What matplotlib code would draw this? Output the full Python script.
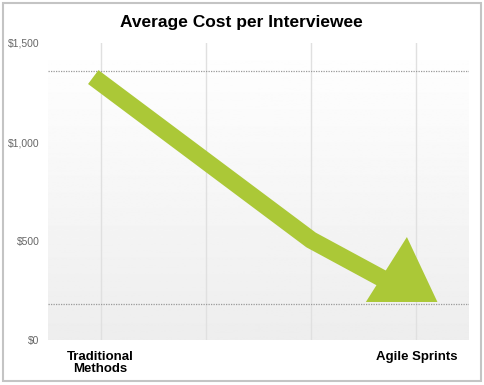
import numpy as np
import matplotlib
matplotlib.use("Agg")
import matplotlib.pyplot as plt
from matplotlib.patches import Rectangle, Polygon

# chart data
categories = ["Traditional\nMethods", "", "", "Agile Sprints"]
y_ticks = [0, 500, 1000, 1500]
y_labels = ["$0", "$500", "$1,000", "$1,500"]
ref_lines = [1360, 182]

# the big green arrow: shaft points and head corners (x in category units)
shaft_x = [-0.07, 2.0, 2.8]
shaft_y = [1328, 505, 275]
head_x = [2.52, 3.2, 2.91]
head_y = [192, 192, 520]

green = "#abc837"
plt.rcParams['font.family'] = ['Liberation Sans', 'DejaVu Sans']

fig = plt.figure(figsize=(4.84, 3.85), dpi=100)
fig.patch.set_facecolor("white")
fig.patches.append(Rectangle((3 / 484, 4 / 385), 478 / 484, 378 / 385,
                             transform=fig.transFigure, fill=False,
                             edgecolor="#c4c4c4", linewidth=1.5))

ax = fig.add_axes([48 / 484, 45 / 385, 421 / 484, 297 / 385])
ax.set_xlim(-0.5, 3.5)
ax.set_ylim(0, 1500)

# soft gradient background, white at top to light gray at the bottom
grad = np.linspace(1.0, 0.93, 256).reshape(-1, 1)
ax.imshow(grad, cmap="gray", vmin=0, vmax=1, aspect="auto",
          extent=[-0.5, 3.5, 0, 1500], origin="upper", zorder=0)

for x in range(len(categories)):
    ax.axvline(x, color="#e0e0e0", linewidth=1, zorder=1)
for r in ref_lines:
    ax.axhline(r, color="#9a9a9a", linewidth=0.9, linestyle=(0, (1, 1)), zorder=2)

ax.plot(shaft_x, shaft_y, color=green, linewidth=12.5,
        solid_capstyle="butt", solid_joinstyle="miter", zorder=3)
ax.add_patch(Polygon(list(zip(head_x, head_y)), closed=True,
                     facecolor=green, edgecolor="none", zorder=4))

ax.set_xticks(range(len(categories)))
ax.set_xticklabels(categories, fontsize=9.5, fontweight="bold", color="black",
                   linespacing=1.0)
ax.set_yticks(y_ticks)
ax.set_yticklabels(y_labels, fontsize=7.5, color="#666666")
ax.tick_params(axis="both", length=0)
ax.tick_params(axis="x", pad=8)
ax.tick_params(axis="y", pad=6)
for s in ax.spines.values():
    s.set_visible(False)

fig.text(241 / 484, 1 - 22 / 385, "Average Cost per Interviewee",
         ha="center", va="center", fontsize=12.5, fontweight="bold")

fig.savefig("out.png", dpi=100)
